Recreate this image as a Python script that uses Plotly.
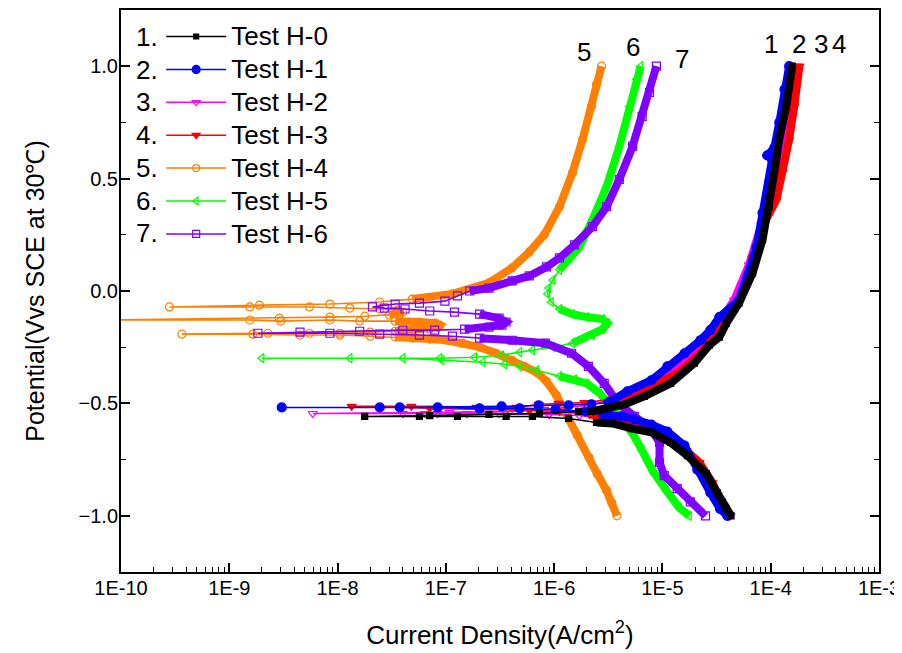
import plotly.graph_objects as go

# ---------------- data (potential V vs SCE, current density A/cm2) ----------------
h0_e = [-1.000, -0.969, -0.897, -0.813, -0.732, -0.674, -0.629, -0.612, -0.589, -0.585, -0.567,
        -0.558, -0.558, -0.558, -0.558, -0.558,
        -0.554, -0.549, -0.545, -0.536, -0.536, -0.522, -0.504, -0.469, -0.411, -0.321, -0.241,
        -0.205, -0.143, -0.054, 0.080, 0.228, 0.375, 0.527, 0.674, 0.821, 1.000]
h0_i = [4.3e-5, 3.9e-5, 3.2e-5, 2.55e-5, 1.7e-5, 1.19e-5, 7.9e-6, 5.3e-6, 3.45e-6, 2.46e-6, 1.36e-6,
        6.3e-7, 3.6e-7, 1.28e-7, 5.7e-8, 1.78e-8,
        7.1e-8, 2.5e-7, 7.3e-7, 1.68e-6, 2.21e-6, 3.17e-6, 4.46e-6, 6.8e-6, 1.19e-5, 1.97e-5, 2.71e-5,
        3.35e-5, 3.9e-5, 5.1e-5, 6.8e-5, 8.4e-5, 9.7e-5, 1.08e-4, 1.2e-4, 1.39e-4, 1.58e-4]

h1_e = [-1.000, -0.969, -0.897, -0.795, -0.688, -0.625, -0.594, -0.571, -0.558, -0.549, -0.536,
        -0.527, -0.522, -0.522, -0.518, -0.518, -0.518,
        -0.518, -0.513, -0.509, -0.509, -0.504, -0.496, -0.446, -0.397, -0.335, -0.277, -0.219,
        -0.174, -0.116, -0.040, 0.196, 0.348, 0.482, 0.585, 0.603, 0.638, 0.750, 0.897, 1.000]
h1_i = [3.98e-5, 3.4e-5, 2.77e-5, 2.1e-5, 1.6e-5, 1.11e-5, 7.9e-6, 5.5e-6, 4.2e-6, 2.85e-6, 1.95e-6,
        1.03e-6, 4.8e-7, 2.05e-7, 8.4e-8, 2.45e-8, 3.05e-9,
        3.75e-8, 3.27e-7, 7.2e-7, 1.36e-6, 2.21e-6, 3.17e-6, 4.75e-6, 7.9e-6, 1.11e-5, 1.6e-5, 2.24e-5,
        2.77e-5, 3.35e-5, 5.1e-5, 7.4e-5, 8.4e-5, 9.7e-5, 1.03e-4, 9.3e-5, 1.08e-4, 1.2e-4, 1.34e-4, 1.48e-4]

h2_e = [-1.000, -0.933, -0.844, -0.754, -0.692, -0.647, -0.612, -0.585, -0.567, -0.554, -0.549,
        -0.545, -0.545, -0.545, -0.545, -0.545, -0.545,
        -0.540, -0.536, -0.527, -0.513, -0.487, -0.455, -0.402, -0.321, -0.228, -0.143, -0.040,
        0.116, 0.295, 0.473, 0.629, 0.808, 1.000]
h2_i = [4.25e-5, 3.5e-5, 2.71e-5, 1.97e-5, 1.43e-5, 1.04e-5, 6.8e-6, 4.46e-6, 2.9e-6, 1.71e-6, 9.0e-7,
        3.1e-7, 1.56e-7, 8.4e-8, 6.4e-8, 4.0e-8, 5.9e-9,
        1.08e-7, 3.9e-7, 8.1e-7, 1.71e-6, 3.4e-6, 5.5e-6, 9.4e-6, 1.6e-5, 2.44e-5, 3.35e-5, 4.6e-5,
        6.3e-5, 8.2e-5, 1.03e-4, 1.25e-4, 1.48e-4, 1.72e-4]

h3_e = [-1.000, -0.955, -0.853, -0.763, -0.710, -0.656, -0.612, -0.585, -0.567, -0.549, -0.536,
        -0.531, -0.527, -0.522, -0.513,
        -0.513, -0.518, -0.518, -0.504, -0.500, -0.496, -0.482, -0.460, -0.424, -0.366, -0.290,
        -0.205, -0.116, -0.018, 0.147, 0.286, 0.406, 0.527, 0.674, 0.821, 1.000]
h3_i = [4.15e-5, 3.65e-5, 2.89e-5, 2.2e-5, 1.66e-5, 1.16e-5, 7.6e-6, 4.95e-6, 3.25e-6, 2.12e-6, 1.12e-6,
        5.9e-7, 2.05e-7, 7.1e-8, 1.35e-8,
        4.8e-8, 1.92e-7, 4.5e-7, 7.2e-7, 1.1e-6, 1.9e-6, 3.4e-6, 4.85e-6, 7.9e-6, 1.37e-5, 2.1e-5,
        2.95e-5, 4.15e-5, 5.35e-5, 6.8e-5, 8.4e-5, 1.13e-4, 1.28e-4, 1.48e-4, 1.65e-4, 1.84e-4]

h4_e = [-1.000, -0.942, -0.888, -0.813, -0.741, -0.643, -0.545, -0.464, -0.402, -0.362, -0.335,
        -0.308, -0.277, -0.250, -0.232, -0.219, -0.214, -0.210, -0.205, -0.201, -0.196, -0.196,
        -0.192, -0.192,
        -0.188, -0.188, -0.188, -0.183, -0.179, -0.174, -0.170, -0.161, -0.152, -0.143, -0.138,
        -0.134, -0.134, -0.129, -0.134, -0.129, -0.129,
        -0.121, -0.116, -0.112, -0.107, -0.103, -0.094, -0.085, -0.080, -0.076, -0.071, -0.071, -0.071,
        -0.063, -0.058, -0.049, -0.036, -0.013, 0.036, 0.103, 0.174, 0.250, 0.375, 0.527, 0.674,
        0.821, 0.920, 1.000]
h4_i = [3.8e-6, 3.4e-6, 3.05e-6, 2.5e-6, 2.1e-6, 1.64e-6, 1.3e-6, 1.05e-6, 8.5e-7, 6.9e-7, 5.3e-7,
        4.1e-7, 2.9e-7, 2.05e-7, 1.43e-7, 1.02e-7, 7.1e-8, 4.9e-8, 3.4e-8, 2.0e-8, 1.05e-8, 4.5e-9,
        1.65e-9, 3.65e-10,
        2.27e-9, 5.5e-9, 1.05e-8, 2.0e-8, 3.4e-8, 5.1e-8, 7.1e-8, 8.4e-8, 8.8e-8, 8.0e-8, 5.7e-8,
        3.4e-8, 1.6e-8, 8.5e-9, 3.0e-9, 1.55e-9, 6.4e-11,
        2.9e-9, 8.5e-9, 1.78e-8, 3.0e-8, 3.75e-8, 4.0e-8, 3.6e-8, 2.45e-8, 1.3e-8, 5.5e-9, 1.55e-9, 2.8e-10,
        1.9e-9, 8.5e-9, 2.45e-8, 4.9e-8, 1.15e-7, 2.5e-7, 4.1e-7, 5.9e-7, 8.1e-7, 1.12e-6, 1.48e-6, 1.83e-6,
        2.21e-6, 2.46e-6, 2.74e-6]

h5_e = [-1.000, -0.964, -0.888, -0.799, -0.710, -0.634, -0.576, -0.518, -0.455, -0.411, -0.393,
        -0.379, -0.353, -0.335, -0.326, -0.317, -0.308, -0.299, -0.299,
        -0.299, -0.299, -0.295, -0.286, -0.272, -0.263, -0.250, -0.232, -0.196, -0.170, -0.143,
        -0.125, -0.116, -0.103, -0.080, -0.049, -0.013, 0.013, 0.049, 0.094, 0.147, 0.196, 0.317,
        0.464, 0.643, 0.821, 0.942, 1.000]
h5_i = [1.77e-5, 1.43e-5, 1.09e-5, 8.1e-6, 6.5e-6, 5.3e-6, 4.3e-6, 3.45e-6, 2.63e-6, 2.0e-6, 1.54e-6,
        1.12e-6, 6.9e-7, 4.8e-7, 3.5e-7, 2.2e-7, 9.2e-8, 4.0e-8, 2.0e-9,
        1.3e-8, 8.8e-8, 1.84e-7, 3.27e-7, 4.8e-7, 6.3e-7, 9.7e-7, 1.48e-6, 2.26e-6, 2.8e-6, 3.1e-6,
        2.8e-6, 2.0e-6, 1.48e-6, 1.12e-6, 9.4e-7, 8.7e-7, 8.9e-7, 9.7e-7, 1.12e-6, 1.39e-6, 1.71e-6, 2.26e-6,
        3.05e-6, 4.0e-6, 4.95e-6, 5.75e-6, 6.3e-6]

h6_e = [-1.000, -0.938, -0.879, -0.821, -0.763, -0.674, -0.616, -0.558, -0.500, -0.411, -0.335,
        -0.277, -0.232, -0.219, -0.210, -0.201, -0.196, -0.192, -0.188, -0.188,
        -0.183, -0.179, -0.174, -0.174, -0.170, -0.161, -0.152, -0.138, -0.121, -0.103, -0.094,
        -0.089, -0.080, -0.076, -0.071,
        -0.058, -0.054, -0.045, -0.022, 0.000, 0.013, 0.045, 0.067, 0.107, 0.147, 0.205, 0.286,
        0.375, 0.496, 0.643, 0.777, 0.884, 1.000]
h6_i = [2.5e-5, 1.81e-5, 1.37e-5, 1.04e-5, 9.4e-6, 9.4e-6, 7.9e-6, 5.5e-6, 3.9e-6, 2.9e-6, 2.07e-6,
        1.45e-6, 8.3e-7, 4.1e-7, 2.05e-7, 1.15e-7, 5.7e-8, 2.45e-8, 8.5e-9, 1.84e-9,
        4.5e-9, 1.6e-8, 4.0e-8, 7.9e-8, 1.49e-7, 2.5e-7, 3.3e-7, 3.6e-7, 3.1e-7, 2.05e-7, 1.2e-7,
        7.1e-8, 4.2e-8, 2.7e-8, 2.1e-8,
        3.4e-8, 5.7e-8, 9.8e-8, 1.28e-7, 1.66e-7, 2.5e-7, 4.1e-7, 5.9e-7, 8.5e-7, 1.12e-6, 1.54e-6, 2.26e-6,
        3.05e-6, 4.0e-6, 5.3e-6, 6.5e-6, 7.6e-6, 8.8e-6]

series_names = ["Test H-0", "Test H-1", "Test H-2", "Test H-3", "Test H-4", "Test H-5", "Test H-6"]
series_nums = ["1.", "2.", "3.", "4.", "5.", "6.", "7."]

x_tick_vals = [1e-10, 1e-9, 1e-8, 1e-7, 1e-6, 1e-5, 1e-4, 1e-3]
x_tick_text = ["1E-10", "1E-9", "1E-8", "1E-7", "1E-6", "1E-5", "1E-4", "1E-3"]

# curve labels near the top ends: (text, log10 current, potential)
curve_labels = [("5", -5.72, 1.062), ("6", -5.27, 1.085), ("7", -4.815, 1.03),
                ("1", -4.0, 1.098), ("2", -3.736, 1.098), ("3", -3.533, 1.098), ("4", -3.37, 1.098)]

# ---------------- styles ----------------
data = [(h0_e, h0_i), (h1_e, h1_i), (h2_e, h2_i), (h3_e, h3_i), (h4_e, h4_i), (h5_e, h5_i), (h6_e, h6_i)]
colors = ["#000000", "#0000FF", "#FF00FF", "#FF0000", "#FF8000", "#00FF00", "#8000FF"]
symbols = ["square", "circle", "triangle-down-open", "triangle-down", "circle-open",
           "triangle-left-open", "square-open"]
msizes = [6, 9, 8, 8, 8, 8, 8]
# current above which the recorded points are so dense that they merge into a thick band
band_from = [2.0e-6, 2.5e-6, 2.0e-6, 2.0e-6, 3.0e-8, 1.0e-6, 1.4e-7]
draw_order = [4, 5, 6, 2, 3, 1, 0]

fig = go.Figure()
for k in draw_order:
    e, i = data[k]
    fig.add_trace(go.Scatter(
        x=i, y=e, mode="lines+markers", showlegend=False,
        line=dict(color=colors[k], width=1.6),
        marker=dict(symbol=symbols[k], size=msizes[k], color=colors[k],
                    line=dict(color=colors[k], width=1.2)),
    ))
    band_x = [v if v >= band_from[k] else None for v in i]
    fig.add_trace(go.Scatter(
        x=band_x, y=e, mode="lines", showlegend=False, connectgaps=False,
        line=dict(color=colors[k], width=8),
        hoverinfo="skip",
    ))
# legend entries (thin line + symbol like the original key)
for k in range(7):
    fig.add_trace(go.Scatter(
        x=[None], y=[None], mode="lines+markers",
        name='<span style="font-size:26px">' + series_names[k] + '</span>',
        line=dict(color=colors[k], width=1.5),
        marker=dict(symbol=symbols[k], size=msizes[k] - 1, color=colors[k],
                    line=dict(color=colors[k], width=1.2)),
    ))

font_family = "Liberation Sans, Arial, sans-serif"

annotations = []
for n, num in enumerate(series_nums):
    annotations.append(dict(xref="paper", yref="paper", x=0.0515, y=(572 - 37 - n * 32.7) / 562,
                            xanchor="right", yanchor="middle", text=num, showarrow=False,
                            font=dict(size=26, family=font_family, color="black")))
for txt, lx, ey in curve_labels:
    annotations.append(dict(x=lx, y=ey, xref="x", yref="y", text=txt, showarrow=False,
                            xanchor="center", yanchor="middle",
                            font=dict(size=26, family=font_family, color="black")))

fig.update_layout(
    width=902, height=653,
    margin=dict(l=113, r=31, t=2, b=89, autoexpand=False),
    plot_bgcolor="white", paper_bgcolor="white",
    font=dict(family=font_family, size=20, color="black"),
    legend=dict(x=0.053, y=0.991, xanchor="left", yanchor="top",
                bgcolor="rgba(0,0,0,0)", borderwidth=0, itemwidth=60,
                font=dict(size=23, family=font_family, color="black"),
                tracegroupgap=0),
    annotations=annotations,
)
fig.update_xaxes(
    type="log", range=[-10, -3], tickvals=x_tick_vals, ticktext=x_tick_text,
    ticks="inside", ticklen=9, tickwidth=1.5, tickcolor="black",
    minor=dict(ticks="inside", ticklen=5, dtick="D1", tickwidth=1, tickcolor="black"),
    showline=True, linewidth=2, linecolor="black", mirror=True,
    showgrid=False, zeroline=False, ticklabelstandoff=-3, automargin=False,
    title=dict(text="Current Density(A/cm<sup>2</sup>)", font=dict(size=26), standoff=28),
)
fig.update_yaxes(
    range=[-1.25, 1.25], tick0=0, dtick=0.5, tickformat=".1f",
    ticks="inside", ticklen=9, tickwidth=1.5, tickcolor="black",
    minor=dict(ticks="inside", ticklen=5, dtick=0.25, tickwidth=1, tickcolor="black"),
    showline=True, linewidth=2, linecolor="black", mirror="allticks",
    showgrid=False, zeroline=False, ticklabelstandoff=-3, automargin=False,
    title=dict(text="Potential(Vvs SCE at 30℃)", font=dict(size=25), standoff=27),
)

fig.write_html("out.html")
